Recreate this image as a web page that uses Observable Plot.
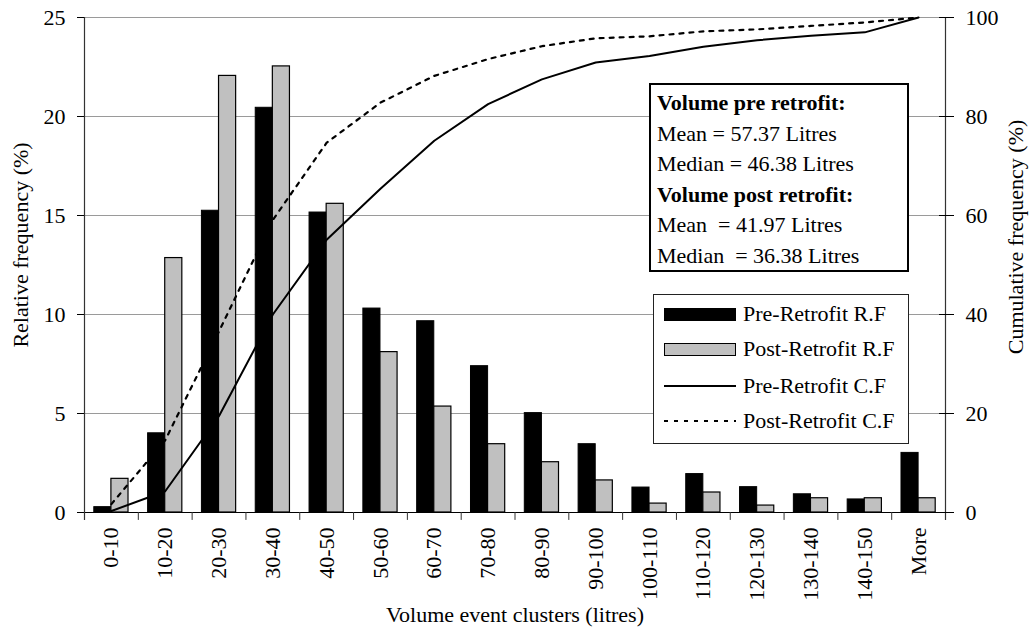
<!DOCTYPE html>
<html>
<head>
<meta charset="utf-8">
<script src="https://cdn.jsdelivr.net/npm/d3@7"></script>
<script src="https://cdn.jsdelivr.net/npm/@observablehq/plot@0.6"></script>
<style>
  html, body { margin: 0; padding: 0; background: #fff; }
  #chart { position: relative; width: 1032px; height: 628px; font-family: "Liberation Serif", "Times New Roman", serif; color: #000; }
  .box { position: absolute; box-sizing: border-box; background: #fff; }
  #stats { left: 649px; top: 83px; width: 260px; height: 189px; border: 2px solid #000; padding: 3px 0 0 6px; font-size: 22px; line-height: 30.6px; white-space: pre; }
  #stats b { font-weight: bold; }
  #legend { left: 653px; top: 294px; width: 256px; height: 150px; border: 1px solid #222; font-size: 22px; }
  .row { position: absolute; left: 0; height: 30px; display: flex; align-items: center; white-space: pre; }
  .sym { width: 72px; margin-left: 10px; margin-right: 7px; display: flex; align-items: center; height: 30px; }
</style>
</head>
<body>
<div id="chart"></div>
<script>
// ---- data ----
const categories = ["0-10","10-20","20-30","30-40","40-50","50-60","60-70","70-80","80-90","90-100","100-110","110-120","120-130","130-140","140-150","More"];
const preRF  = [0.27, 4.0, 15.24, 20.44, 15.15, 10.3, 9.66, 7.39, 5.02, 3.45, 1.26, 1.94, 1.28, 0.92, 0.66, 3.01];
const postRF = [1.7, 12.85, 22.05, 22.53, 15.59, 8.1, 5.35, 3.45, 2.54, 1.62, 0.45, 1.01, 0.35, 0.72, 0.72, 0.72];
const preCF  = [0.3, 4.3, 19.5, 40.0, 55.1, 65.4, 75.1, 82.5, 87.5, 90.9, 92.2, 94.1, 95.4, 96.3, 97.0, 100];
const postCF = [1.7, 14.6, 36.6, 59.1, 74.7, 82.8, 88.2, 91.6, 94.2, 95.8, 96.2, 97.2, 97.6, 98.3, 99.0, 100];
const leftTicks  = [0, 5, 10, 15, 20, 25];
const rightTicks = [0, 20, 40, 60, 80, 100];
const seriesNames = ["Pre-Retrofit R.F", "Post-Retrofit R.F", "Pre-Retrofit C.F", "Post-Retrofit C.F"];
const yTitle = "Relative frequency (%)";
const y2Title = "Cumulative frequency (%)";
const xTitle = "Volume event clusters (litres)";
const statsLines = [
  {text: "Volume pre retrofit:", bold: true},
  {text: "Mean = 57.37 Litres", bold: false},
  {text: "Median = 46.38 Litres", bold: false},
  {text: "Volume post retrofit:", bold: true},
  {text: "Mean  = 41.97 Litres", bold: false},
  {text: "Median  = 36.38 Litres", bold: false}
];

// ---- tables built from the arrays ----
const preRows  = categories.map((c, i) => ({cat: c, v: preRF[i]}));
const postRows = categories.map((c, i) => ({cat: c, v: postRF[i]}));
const preCFRows  = categories.map((c, i) => ({cat: c, v: preCF[i]}));
const postCFRows = categories.map((c, i) => ({cat: c, v: postCF[i]}));

const W = 1032, H = 628;
const mL = 84, mR = 87, mT = 17, mB = 116;
const half = (W - mL - mR) / categories.length / 2;
const yMax = 25, y2Max = 100;
const toLeft = v => v * yMax / y2Max;   // secondary axis mapping

const plot = Plot.plot({
  width: W, height: H,
  marginLeft: mL, marginRight: mR, marginTop: mT, marginBottom: mB,
  style: {fontFamily: "Liberation Serif", fontSize: "22px", color: "#000", background: "#fff", overflow: "visible"},
  x: {type: "band", domain: categories, paddingInner: 0, paddingOuter: 0, round: false, axis: null},
  y: {domain: [0, yMax], axis: null},
  marks: [
    Plot.gridY(leftTicks.filter(t => t > 0), {stroke: "#9a9a9a", strokeOpacity: 1, strokeWidth: 1.2}),
    Plot.barY(preRows, {x: "cat", y: "v", fill: "#000", stroke: "#000", strokeWidth: 1, insetLeft: 9.8, insetRight: half}),
    Plot.barY(postRows, {x: "cat", y: "v", fill: "#c0c0c0", stroke: "#000", strokeWidth: 1.2, insetLeft: half, insetRight: 9.8}),
    Plot.ruleY([0], {stroke: "#000", strokeWidth: 1.2}),
    // category boundary ticks
    Plot.ruleX(categories, {x: d => d, dx: half, y1: 0, y2: -0.4, stroke: "#333"}),
    // left and right axis lines
    Plot.ruleX([categories[0]], {x: d => d, dx: -half, y1: yMax, y2: -0.4, stroke: "#333", strokeWidth: 1.2}),
    Plot.ruleX([categories[categories.length - 1]], {x: d => d, dx: half, y1: yMax, y2: -0.4, stroke: "#333", strokeWidth: 1.2}),
    // cumulative lines
    Plot.line(preCFRows, {x: "cat", y: d => toLeft(d.v), stroke: "#000", strokeWidth: 2}),
    Plot.line(postCFRows, {x: "cat", y: d => toLeft(d.v), stroke: "#000", strokeWidth: 2.2, strokeDasharray: "4,6"}),
    // axes
    Plot.axisY(leftTicks, {anchor: "left", tickSize: 7, tickPadding: 12, label: null, tickFormat: d => String(d)}),
    Plot.axisY(rightTicks.map(toLeft), {anchor: "right", tickSize: 15, dx: -7, tickPadding: 12, label: null, tickFormat: d => String(Math.round(d * y2Max / yMax))}),
    Plot.text(categories, {x: d => d, frameAnchor: "bottom", dy: 15, rotate: -90, textAnchor: "end", lineAnchor: "middle", fontSize: 22}),
    Plot.text([yTitle], {frameAnchor: "left", dx: -64, dy: -20, rotate: -90, textAnchor: "middle", lineAnchor: "middle", fontSize: 22}),
    Plot.text([y2Title], {frameAnchor: "right", dx: 70, dy: -28, rotate: -90, textAnchor: "middle", lineAnchor: "middle", fontSize: 22}),
    Plot.text([xTitle], {frameAnchor: "bottom", dy: 102, textAnchor: "middle", lineAnchor: "middle", fontSize: 22})
  ]
});

const chart = document.getElementById("chart");
chart.appendChild(plot);

// stats box
const stats = document.createElement("div");
stats.id = "stats"; stats.className = "box";
stats.innerHTML = statsLines.map(l => l.bold ? `<div><b>${l.text}</b></div>` : `<div>${l.text}</div>`).join("");
chart.appendChild(stats);

// legend
const legend = document.createElement("div");
legend.id = "legend"; legend.className = "box";
const rowTops = [4, 39, 76, 111];
const symbols = [
  `<div style="width:72px;height:13px;background:#000;border:1px solid #000;box-sizing:border-box"></div>`,
  `<div style="width:72px;height:13px;background:#c0c0c0;border:1.5px solid #000;box-sizing:border-box"></div>`,
  `<svg width="72" height="6"><line x1="0" x2="72" y1="3" y2="3" stroke="#000" stroke-width="2"/></svg>`,
  `<svg width="72" height="6"><line x1="0" x2="72" y1="3" y2="3" stroke="#000" stroke-width="2" stroke-dasharray="4,6"/></svg>`
];
legend.innerHTML = seriesNames.map((n, i) =>
  `<div class="row" style="top:${rowTops[i]}px"><div class="sym">${symbols[i]}</div><span>${n}</span></div>`).join("");
chart.appendChild(legend);
</script>
</body>
</html>
